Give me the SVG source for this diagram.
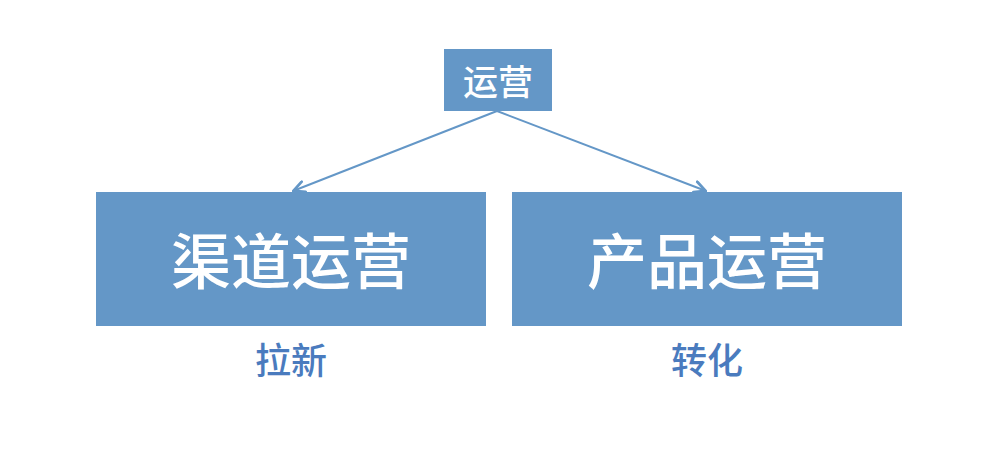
<svg xmlns="http://www.w3.org/2000/svg" width="1002" height="452" viewBox="0 0 1002 452">
<style>
.box{fill:#6497C7;}
.t{font-family:"Noto Sans CJK SC","Liberation Sans",sans-serif;fill:#fff;text-anchor:middle;font-weight:500;}
.lbl{font-family:"Noto Sans CJK SC","Liberation Sans",sans-serif;fill:#4A7BBE;text-anchor:middle;font-size:36px;font-weight:500;}
.c{stroke:#6497C7;stroke-width:2;fill:none;}
</style>
<defs>
<marker id="a" viewBox="0 0 14 14" refX="13" refY="7" markerWidth="14" markerHeight="14" markerUnits="userSpaceOnUse" orient="auto">
<path d="M1.5,1.5 L12.5,7 L1.5,12.5" fill="none" stroke="#6497C7" stroke-width="2.8" stroke-linecap="round"/>
</marker>
</defs>
<g id="connectors">
<line class="c" x1="497" y1="111" x2="293" y2="191" marker-end="url(#a)"/>
<line class="c" x1="497" y1="111" x2="706" y2="191" marker-end="url(#a)"/>
</g>
<g id="n-top">
<rect class="box" x="444" y="49" width="108" height="62"/>
<text class="t" x="498" y="95" font-size="35">运营</text>
</g>
<g id="n-left">
<rect class="box" x="96" y="192" width="390" height="134"/>
<text class="t" x="291" y="284" font-size="60">渠道运营</text>
</g>
<g id="n-right">
<rect class="box" x="512" y="192" width="390" height="134"/>
<text class="t" x="707" y="284" font-size="60">产品运营</text>
</g>
<g id="labels">
<text class="lbl" x="291" y="374">拉新</text>
<text class="lbl" x="707" y="374">转化</text>
</g>
</svg>
